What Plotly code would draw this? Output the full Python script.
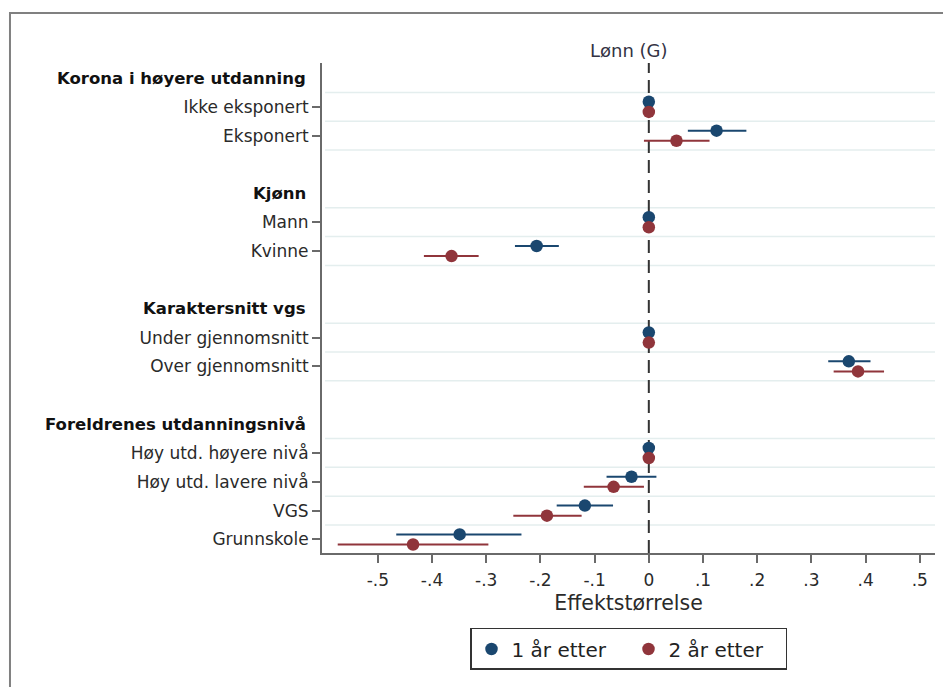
import plotly.graph_objects as go

# ---- data -------------------------------------------------------------
GROUPS = [
    "Korona i høyere utdanning",
    "Kjønn",
    "Karaktersnitt vgs",
    "Foreldrenes utdanningsnivå",
]
GROUP_ITEMS = [
    ["Ikke eksponert", "Eksponert"],
    ["Mann", "Kvinne"],
    ["Under gjennomsnitt", "Over gjennomsnitt"],
    ["Høy utd. høyere nivå", "Høy utd. lavere nivå", "VGS", "Grunnskole"],
]
SERIES_NAMES = ["1 år etter", "2 år etter"]

# point estimates and 95% confidence limits (None = reference category)
EST_1 = [0.0, 0.125, 0.0, -0.207, 0.0, 0.369, 0.0, -0.032, -0.118, -0.349]
LO_1 = [None, 0.072, None, -0.247, None, 0.331, None, -0.078, -0.170, -0.466]
HI_1 = [None, 0.180, None, -0.166, None, 0.409, None, 0.014, -0.066, -0.235]

EST_2 = [0.0, 0.051, 0.0, -0.364, 0.0, 0.386, 0.0, -0.065, -0.188, -0.435]
LO_2 = [None, -0.009, None, -0.415, None, 0.341, None, -0.120, -0.250, -0.574]
HI_2 = [None, 0.112, None, -0.314, None, 0.434, None, -0.009, -0.124, -0.296]

X_TICKS = [-0.5, -0.4, -0.3, -0.2, -0.1, 0.0, 0.1, 0.2, 0.3, 0.4, 0.5]
X_TICK_LABELS = ["-.5", "-.4", "-.3", "-.2", "-.1", "0", ".1", ".2", ".3", ".4", ".5"]

TITLE = "Lønn (G)"
X_TITLE = "Effektstørrelse"

# ---- styling ----------------------------------------------------------
FONT = "DejaVu Sans"
BLUE = "#1a476f"
RED = "#90353b"
AXIS_GREY = "#6a6a6a"
GRID = "#e4eeee"
OFFSET = 0.175  # vertical split between the two series inside a row

# ---- row layout: header row, item rows, one blank row per group --------
header_rows, item_rows, item_labels = [], [], []
row = 0
for head, items in zip(GROUPS, GROUP_ITEMS):
    header_rows.append(row)
    row += 1
    for it in items:
        item_rows.append(row)
        item_labels.append(it)
        row += 1
    row += 1

Y_RANGE = [16.47, -0.52]


def err_parts(est, lo, hi):
    plus = [None if h is None else h - e for e, h in zip(est, hi)]
    minus = [None if l is None else e - l for e, l in zip(est, lo)]
    return plus, minus


fig = go.Figure()
for name, est, lo, hi, color, shift in [
    (SERIES_NAMES[0], EST_1, LO_1, HI_1, BLUE, -OFFSET),
    (SERIES_NAMES[1], EST_2, LO_2, HI_2, RED, OFFSET),
]:
    plus, minus = err_parts(est, lo, hi)
    fig.add_trace(
        go.Scatter(
            x=est,
            y=[r + shift for r in item_rows],
            mode="markers",
            name=name,
            marker=dict(color=color, size=12.5, line=dict(width=0)),
            error_x=dict(
                type="data",
                symmetric=False,
                array=plus,
                arrayminus=minus,
                color=color,
                thickness=2,
                width=0,
            ),
            cliponaxis=False,
        )
    )

shapes = []
# light horizontal grid bands around each item row
for head_row, items in zip(header_rows, GROUP_ITEMS):
    for k in range(len(items) + 1):
        yv = head_row + 0.5 + k
        if yv < Y_RANGE[0]:
            shapes.append(
                dict(type="line", xref="paper", x0=0.005, x1=1, yref="y",
                     y0=yv, y1=yv, line=dict(color=GRID, width=1.5),
                     layer="below")
            )
# reference line at zero
shapes.append(
    dict(type="line", xref="x", x0=0, x1=0, yref="paper", y0=0, y1=1,
         line=dict(color="#333333", width=2, dash="13px,7px"), layer="below")
)
# outer graph frame (top and left edges)
shapes.append(
    dict(type="path", xref="paper", yref="paper",
         path="M -0.509,-0.4 L -0.509,1.102 L 1.05,1.102",
         line=dict(color="#808080", width=2))
)

annotations = []
for head, hr in zip(GROUPS, header_rows):
    annotations.append(
        dict(text="<b>" + head + "</b>", xref="paper", x=0, xanchor="right",
             xshift=-14, yref="y", y=hr, yanchor="middle", showarrow=False,
             font=dict(family=FONT, size=16.5, color="#111111"))
    )
annotations.append(
    dict(text=TITLE, xref="paper", x=0.5, xanchor="center", yref="paper",
         y=1.026, yanchor="middle", showarrow=False,
         font=dict(family=FONT, size=18, color="#333344"))
)

fig.update_layout(
    width=943,
    height=687,
    margin=dict(l=322, r=8, t=63, b=134),
    paper_bgcolor="white",
    plot_bgcolor="white",
    font=dict(family=FONT, size=17, color="#2a2a2a"),
    showlegend=True,
    legend=dict(
        orientation="h",
        x=0.5,
        xanchor="center",
        y=-0.153,
        yanchor="top",
        bordercolor="#333333",
        borderwidth=1.5,
        entrywidth=112,
        entrywidthmode="pixels",
        font=dict(family=FONT, size=20, color="#222222"),
    ),
    shapes=shapes,
    annotations=annotations,
    xaxis=dict(
        range=[-0.603, 0.528],
        tickvals=X_TICKS,
        ticktext=X_TICK_LABELS,
        ticks="outside",
        ticklen=8,
        tickwidth=2,
        tickcolor=AXIS_GREY,
        ticklabelstandoff=3,
        showline=True,
        linecolor=AXIS_GREY,
        linewidth=2,
        showgrid=False,
        zeroline=False,
        tickfont=dict(family=FONT, size=17, color="#2a2a2a"),
        title=dict(text=X_TITLE, font=dict(family=FONT, size=20.5, color="#2a2a2a"), standoff=6),
    ),
    yaxis=dict(
        range=Y_RANGE,
        tickvals=item_rows,
        ticktext=item_labels,
        ticks="outside",
        ticklen=8,
        tickwidth=2,
        tickcolor=AXIS_GREY,
        showline=True,
        linecolor=AXIS_GREY,
        linewidth=2,
        showgrid=False,
        zeroline=False,
        tickfont=dict(family=FONT, size=17, color="#2a2a2a"),
    ),
)

fig.write_html("out.html")
